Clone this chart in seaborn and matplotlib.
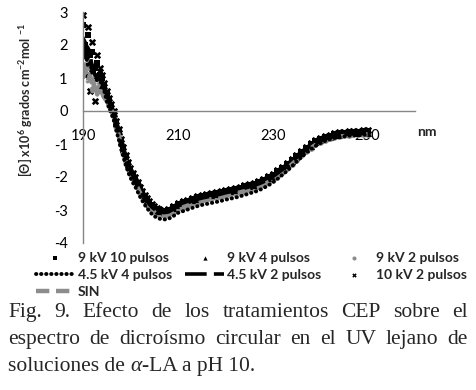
import matplotlib
matplotlib.use("Agg")
import matplotlib.pyplot as plt
import numpy as np
import seaborn as sns

# wavelength grid (nm): 0.5 nm up to 206, then 1 nm
wl = list(np.arange(190, 206.5, 0.5)) + list(range(207, 251))

kv9_p10 = [2.6, 2.0, 2.3, 1.7, 1.8, 1.3, 1.45, 1.1, 1.0, 0.75, 0.55,
           0.35, 0.18, -0.02, -0.32, -0.57, -0.87, -1.12, -1.37, -1.57, -1.75, -1.90,
           -2.02, -2.17, -2.32, -2.45, -2.57, -2.67, -2.77, -2.85, -2.91, -2.96, -2.99,
           -3.02, -3.00, -2.92, -2.82, -2.77, -2.72, -2.67, -2.62, -2.58, -2.55, -2.52,
           -2.49, -2.46, -2.42, -2.39, -2.36, -2.32, -2.28, -2.24, -2.20, -2.15, -2.09,
           -2.01, -1.93, -1.83, -1.72, -1.61, -1.48, -1.35, -1.23, -1.11, -1.01, -0.92,
           -0.85, -0.79, -0.75, -0.71, -0.68, -0.66, -0.64, -0.63, -0.63, -0.62, -0.62]
kv9_p4 = [2.2, 1.7, 1.9, 1.5, 1.3, 1.45, 1.1, 1.2, 0.8, 0.8, 0.5,
          0.32, 0.14, -0.06, -0.36, -0.60, -0.91, -1.15, -1.41, -1.60, -1.79, -1.93,
          -2.06, -2.20, -2.36, -2.48, -2.61, -2.70, -2.81, -2.88, -2.95, -2.99, -3.03,
          -3.05, -3.04, -2.95, -2.86, -2.80, -2.76, -2.70, -2.66, -2.61, -2.59, -2.55,
          -2.53, -2.49, -2.46, -2.42, -2.40, -2.35, -2.32, -2.27, -2.24, -2.18, -2.13,
          -2.04, -1.97, -1.86, -1.76, -1.64, -1.52, -1.38, -1.27, -1.14, -1.05, -0.95,
          -0.89, -0.82, -0.79, -0.74, -0.72, -0.69, -0.68, -0.66, -0.67, -0.65, -0.66]
kv9_p2 = [1.2, 1.4, 1.1, 1.3, 0.9, 1.0, 0.7, 0.85, 0.6, 0.5, 0.35,
          0.22, 0.05, -0.15, -0.45, -0.70, -1.00, -1.25, -1.50, -1.70, -1.88, -2.03,
          -2.15, -2.30, -2.45, -2.58, -2.70, -2.80, -2.90, -2.98, -3.04, -3.09, -3.12,
          -3.15, -3.13, -3.05, -2.95, -2.90, -2.85, -2.80, -2.75, -2.71, -2.68, -2.65,
          -2.62, -2.59, -2.55, -2.52, -2.49, -2.45, -2.41, -2.37, -2.33, -2.28, -2.22,
          -2.14, -2.06, -1.96, -1.85, -1.73, -1.60, -1.47, -1.34, -1.21, -1.11, -1.01,
          -0.94, -0.88, -0.83, -0.79, -0.76, -0.74, -0.72, -0.71, -0.70, -0.69, -0.69]
kv45_p4 = [1.6, 1.8, 1.4, 1.5, 1.1, 1.2, 0.9, 1.0, 0.75, 0.6, 0.3,
           0.08, -0.09, -0.29, -0.59, -0.84, -1.14, -1.39, -1.64, -1.84, -2.02, -2.17,
           -2.29, -2.44, -2.59, -2.72, -2.84, -2.94, -3.04, -3.12, -3.18, -3.23, -3.26,
           -3.29, -3.27, -3.19, -3.09, -3.04, -2.99, -2.94, -2.89, -2.85, -2.82, -2.79,
           -2.76, -2.73, -2.69, -2.66, -2.63, -2.59, -2.55, -2.50, -2.46, -2.41, -2.34,
           -2.26, -2.17, -2.06, -1.94, -1.82, -1.68, -1.54, -1.41, -1.27, -1.16, -1.06,
           -0.98, -0.91, -0.86, -0.82, -0.79, -0.77, -0.75, -0.74, -0.73, -0.72, -0.72]
kv45_p2 = [1.8, 2.0, 1.6, 1.7, 1.3, 1.1, 1.0, 0.9, 0.85, 0.65, 0.5,
           0.29, 0.12, -0.08, -0.38, -0.63, -0.93, -1.18, -1.43, -1.63, -1.81, -1.96,
           -2.08, -2.23, -2.38, -2.51, -2.63, -2.73, -2.83, -2.91, -2.97, -3.02, -3.05,
           -3.08, -3.06, -2.98, -2.88, -2.83, -2.78, -2.73, -2.68, -2.64, -2.61, -2.58,
           -2.55, -2.52, -2.48, -2.45, -2.42, -2.38, -2.34, -2.30, -2.26, -2.21, -2.15,
           -2.07, -1.99, -1.89, -1.78, -1.67, -1.54, -1.41, -1.29, -1.17, -1.07, -0.98,
           -0.91, -0.85, -0.81, -0.77, -0.74, -0.72, -0.70, -0.69, -0.69, -0.68, -0.68]
kv10_p2 = [2.9, 1.1, 2.55, 0.6, 2.1, 0.3, 1.7, 1.3, 1.1, 0.85, 0.6,
           0.38, 0.21, 0.01, -0.29, -0.54, -0.84, -1.09, -1.34, -1.54, -1.72, -1.87,
           -1.99, -2.14, -2.29, -2.42, -2.54, -2.64, -2.74, -2.82, -2.88, -2.93, -2.96,
           -2.99, -2.97, -2.89, -2.79, -2.74, -2.69, -2.64, -2.59, -2.55, -2.52, -2.49,
           -2.46, -2.43, -2.39, -2.36, -2.33, -2.29, -2.25, -2.21, -2.17, -2.12, -2.06,
           -1.98, -1.90, -1.80, -1.69, -1.58, -1.45, -1.32, -1.20, -1.08, -0.98, -0.89,
           -0.82, -0.76, -0.72, -0.68, -0.65, -0.63, -0.61, -0.60, -0.60, -0.59, -0.59]
sin_trat = [1.0, 1.25, 0.9, 1.1, 0.6, 0.9, 0.5, 0.7, 0.55, 0.4, 0.3,
            0.20, 0.03, -0.17, -0.47, -0.72, -1.02, -1.27, -1.52, -1.72, -1.90, -2.05,
            -2.17, -2.32, -2.47, -2.60, -2.72, -2.82, -2.92, -3.00, -3.06, -3.11, -3.14,
            -3.17, -3.15, -3.07, -2.97, -2.92, -2.87, -2.82, -2.77, -2.73, -2.70, -2.67,
            -2.64, -2.61, -2.57, -2.54, -2.51, -2.47, -2.43, -2.39, -2.35, -2.30, -2.24,
            -2.16, -2.08, -1.98, -1.87, -1.75, -1.62, -1.49, -1.36, -1.23, -1.13, -1.03,
            -0.96, -0.90, -0.85, -0.81, -0.78, -0.76, -0.74, -0.73, -0.72, -0.71, -0.71]

x_ticks = [190, 210, 230, 250]
y_ticks = [-4, -3, -2, -1, 0, 1, 2, 3]

caption = ["Fig. 9.  Efecto de los tratamientos CEP sobre el",
           "espectro de dicroísmo circular en el UV lejano de"]

sns.set_style("white")
plt.rcParams['font.family'] = ['Lato', 'DejaVu Sans']
plt.rcParams['axes.unicode_minus'] = False
plt.rcParams['mathtext.fontset'] = 'custom'
plt.rcParams['mathtext.rm'] = 'Lato'
plt.rcParams['mathtext.bf'] = 'Lato:bold'
plt.rcParams['mathtext.default'] = 'bf'

W, H = 476, 390
fig = plt.figure(figsize=(W / 100, H / 100), dpi=100)
ax = fig.add_axes([83 / W, 1 - 243 / H, (415 - 83) / W, (243 - 12) / H])

grey = '#8c8c8c'
sns.lineplot(x=wl, y=sin_trat, ax=ax, color=grey, linewidth=3.2, linestyle=(0, (3, 1.5)),
             sort=False, estimator=None, label='SIN')
sns.scatterplot(x=wl, y=kv9_p2, ax=ax, marker='o', s=24, color=grey, linewidth=0,
                label='9 kV 2 pulsos')
sns.lineplot(x=wl, y=kv45_p4, ax=ax, color='black', linewidth=2.8, linestyle=(0, (0.1, 1.2)),
             dash_capstyle='round', sort=False, estimator=None, label='4.5 kV 4 pulsos')
sns.lineplot(x=wl, y=kv45_p2, ax=ax, color='black', linewidth=2.6, linestyle=(0, (6, 2)),
             sort=False, estimator=None, label='4.5 kV 2 pulsos')
sns.scatterplot(x=wl, y=kv9_p4, ax=ax, marker='^', s=26, color='black', linewidth=0,
                label='9 kV 4 pulsos')
sns.scatterplot(x=wl, y=kv9_p10, ax=ax, marker='s', s=20, color='black', linewidth=0,
                label='9 kV 10 pulsos')
sns.scatterplot(x=wl, y=kv10_p2, ax=ax, marker='X', s=28, color='black', linewidth=0,
                label='10 kV 2 pulsos')

if ax.get_legend() is not None:
    ax.get_legend().remove()

ax.set_xlim(190, 260)
ax.set_ylim(-4, 3)
ax.set_xticks(x_ticks)
ax.set_yticks(y_ticks)
ax.set_xlabel('')
ax.set_ylabel('')
for s in ['top', 'right']:
    ax.spines[s].set_visible(False)
ax.spines['bottom'].set_position(('data', 0))
for s in ['bottom', 'left']:
    ax.spines[s].set_color('#868686')
    ax.spines[s].set_linewidth(1)
ax.tick_params(axis='both', length=0, labelsize=10.5, colors='black')
ax.tick_params(axis='x', pad=13)
ax.tick_params(axis='y', pad=11)

fig.text(417 / W, 1 - 132 / H, 'nm', fontsize=10, fontweight='bold', va='center', ha='left')
fig.text(25 / W, 1 - 100 / H, r'[Θ] x10$^{6}$ grados cm$^{-2}$mol $^{-1}$', rotation=90,
         fontsize=9, fontweight='bold', va='center', ha='center')

# legend in Excel order (row-major), reorder for matplotlib column filling
handles, labels = ax.get_legend_handles_labels()
lut = dict(zip(labels, handles))
order = ['9 kV 10 pulsos', '4.5 kV 4 pulsos', 'SIN',
         '9 kV 4 pulsos', '4.5 kV 2 pulsos',
         '9 kV 2 pulsos', '10 kV 2 pulsos']
leg = fig.legend([lut[k] for k in order], order, ncol=3, loc='upper left',
                 bbox_to_anchor=(36 / W, 1 - 252 / H), frameon=False, borderpad=0,
                 borderaxespad=0, handlelength=2.8, handletextpad=0.2, columnspacing=0.95,
                 labelspacing=0.36, scatterpoints=1, markerscale=0.6,
                 prop={'weight': 'bold', 'size': 10})

# justified caption in serif
renderer = fig.canvas.get_renderer()
cap_fs = 15.5
cap_font = 'Liberation Serif'
x0, x1 = 8, 468
baselines = [317, 344, 371]
for line, yb in zip(caption, baselines[:2]):
    words = line.split()
    texts = [fig.text(0, 1 - yb / H, w, fontsize=cap_fs, family=cap_font, va='baseline')
             for w in words]
    widths = [t.get_window_extent(renderer).width for t in texts]
    gap = (x1 - x0 - sum(widths)) / (len(words) - 1)
    x = x0
    for t, w in zip(texts, widths):
        t.set_x(x / W)
        x += w + gap

space = fig.text(0, 0, 'a a', fontsize=cap_fs, family=cap_font)
aa = fig.text(0, 0, 'aa', fontsize=cap_fs, family=cap_font)
sp_w = space.get_window_extent(renderer).width - aa.get_window_extent(renderer).width
space.remove()
aa.remove()
parts = [('soluciones de', 'normal', sp_w), ('α', 'italic', 0), ('-LA a pH 10.', 'normal', 0)]
x = x0
for txt, style, extra in parts:
    t = fig.text(x / W, 1 - baselines[2] / H, txt, fontsize=cap_fs, family=cap_font,
                 style=style, va='baseline')
    x += t.get_window_extent(renderer).width + extra

fig.savefig('out.png', dpi=100)
